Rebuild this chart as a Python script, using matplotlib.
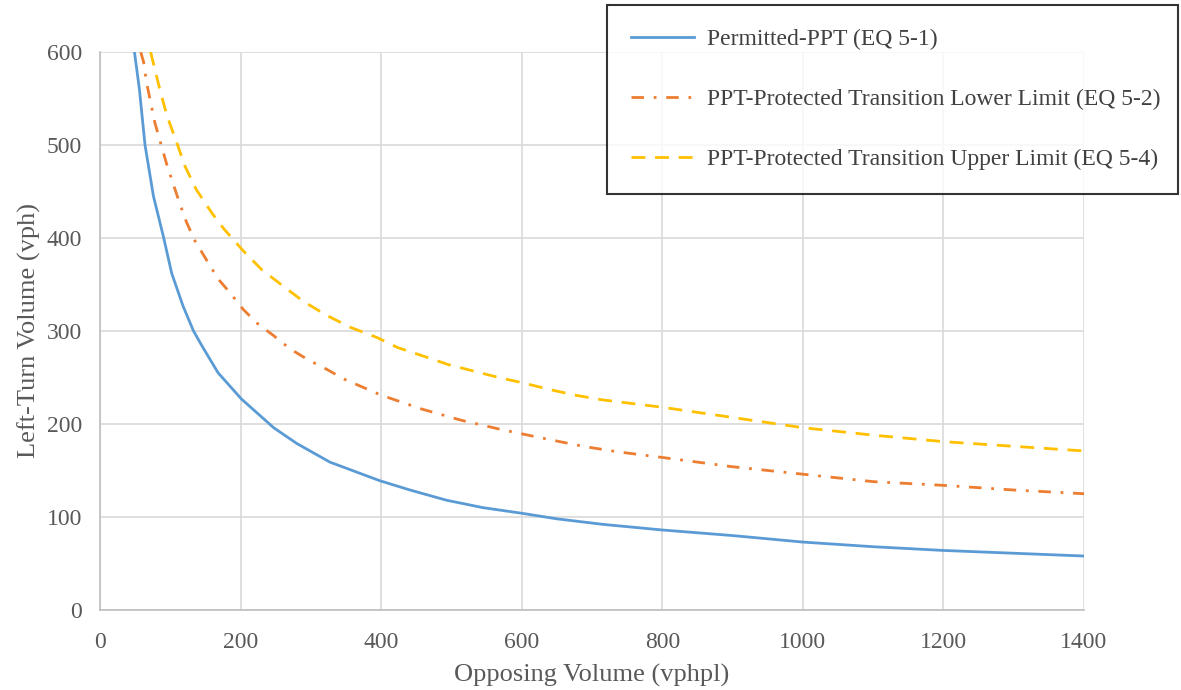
import matplotlib
matplotlib.use("Agg")
import matplotlib.pyplot as plt

# ---- data ----
blue_x = [49, 56, 64, 76, 90, 102, 118, 133, 145, 168, 201, 247, 280, 327, 398, 441, 493, 545, 600, 650, 716, 800, 900, 1000, 1100, 1200, 1300, 1400]
blue_y = [600, 560, 500, 445, 402, 362, 327, 300, 284, 255, 227, 196, 179, 159, 139, 129, 118, 110, 104, 98, 92, 86, 80, 73, 68, 64, 61, 58]

orange_x = [58, 62, 66, 78, 87, 95, 113, 123, 135, 151, 168, 185, 204, 224, 247, 270, 296, 322, 348, 400, 458, 514, 571, 628, 687, 737, 800, 900, 1000, 1100, 1200, 1300, 1400]
orange_y = [600, 589, 568, 524, 500, 479, 438, 417, 397, 377, 356, 341, 323, 308, 295, 281, 269, 259, 248, 231, 216, 204, 194, 185, 176, 170, 164, 154, 146, 138, 134, 129, 125]

yellow_x = [72, 85, 95, 108, 121, 137, 159, 176, 204, 230, 261, 289, 322, 356, 394, 424, 460, 495, 531, 567, 603, 640, 676, 714, 800, 900, 1000, 1100, 1200, 1300, 1400]
yellow_y = [600, 560, 532, 505, 477, 452, 427, 410, 386, 366, 348, 332, 317, 304, 293, 282, 273, 264, 257, 250, 244, 237, 231, 226, 218, 207, 196, 188, 181, 176, 171]

labels = ["Permitted-PPT (EQ 5-1)",
          "PPT-Protected Transition Lower Limit (EQ 5-2)",
          "PPT-Protected Transition Upper Limit (EQ 5-4)"]
x_ticks = [0, 200, 400, 600, 800, 1000, 1200, 1400]
y_ticks = [0, 100, 200, 300, 400, 500, 600]

plt.rcParams['font.family'] = ['Liberation Serif', 'DejaVu Serif']
text_color = '#595959'

fig = plt.figure(figsize=(11.81, 6.90), dpi=100)
ax = fig.add_axes([0.0847, 0.116, 0.9179 - 0.0847, 0.9246 - 0.116])

lw = 2.0
ax.plot(blue_x, blue_y, color='#5B9BD5', lw=lw, label=labels[0], solid_joinstyle='round')
ax.plot(orange_x, orange_y, color='#ED7D31', lw=lw, label=labels[1],
        linestyle=(0, (4.5, 3.5, 1, 3.5)))
ax.plot(yellow_x, yellow_y, color='#FFC000', lw=lw, label=labels[2],
        linestyle=(0, (5, 3.5)))

ax.set_xlim(0, 1400)
ax.set_ylim(0, 600)
ax.set_xticks(x_ticks)
ax.set_yticks(y_ticks)
ax.grid(True, color='#D9D9D9', lw=1.2)
ax.set_axisbelow(True)
for s in ['top', 'right']:
    ax.spines[s].set_visible(False)
for s in ['left', 'bottom']:
    ax.spines[s].set_color('#BFBFBF')
    ax.spines[s].set_linewidth(1.2)
ax.tick_params(axis='x', length=0, labelsize=17, colors=text_color, pad=16)
ax.tick_params(axis='y', length=0, labelsize=17, colors=text_color, pad=13)
ax.set_xlabel("Opposing Volume (vphpl)", fontsize=19, color=text_color, labelpad=8)
ax.set_ylabel("Left-Turn Volume (vph)", fontsize=19, color=text_color, labelpad=4)

leg = fig.legend(loc='upper left', bbox_to_anchor=(0.514, 0.7246, 0.4835, 0.268),
                 bbox_transform=fig.transFigure, mode='expand',
                 fontsize=17, frameon=True, fancybox=False, edgecolor='black',
                 handlelength=2.67, handletextpad=0.55, labelspacing=1.63,
                 borderpad=1.0, borderaxespad=0)
leg.get_frame().set_linewidth(1.5)
for t in leg.get_texts():
    t.set_color('#404040')

fig.savefig("out.png", dpi=100)
